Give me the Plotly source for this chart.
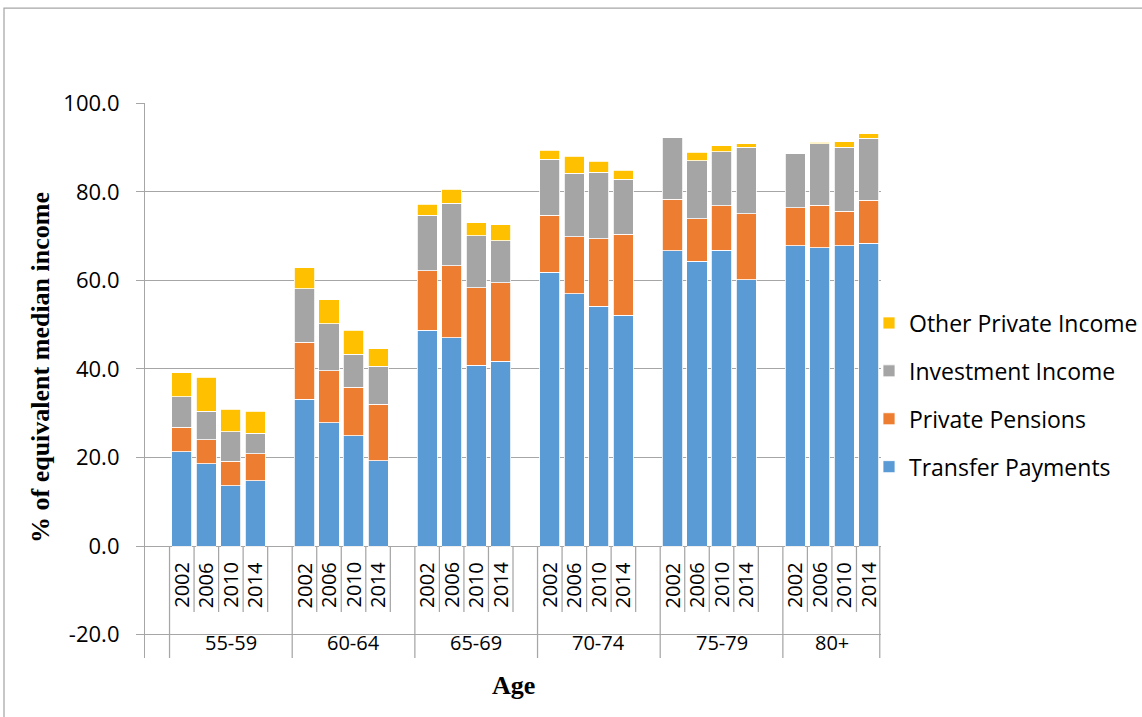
import plotly.graph_objects as go

# Age bands and survey years
age_groups = ["55-59", "60-64", "65-69", "70-74", "75-79", "80+"]
years = ["2002", "2006", "2010", "2014"]

# Income components, % of equivalent median income (age band x year, row by row)
transfer_payments = [
    21.3, 18.6, 13.6, 14.7,
    33.2, 27.8, 24.9, 19.3,
    48.7, 47.1, 40.8, 41.8,
    61.9, 57.0, 54.2, 52.2,
    66.7, 64.4, 66.8, 60.2,
    67.8, 67.4, 67.8, 68.4,
]
private_pensions = [
    5.5, 5.4, 5.6, 6.1,
    12.8, 11.8, 11.0, 12.7,
    13.5, 16.2, 17.6, 17.7,
    12.8, 12.9, 15.2, 18.3,
    11.7, 9.6, 10.1, 14.9,
    8.6, 9.6, 7.8, 9.7,
]
investment_income = [
    6.9, 6.5, 6.6, 4.7,
    12.1, 10.6, 7.4, 8.6,
    12.5, 14.2, 11.7, 9.5,
    12.7, 14.3, 15.0, 12.4,
    13.9, 13.1, 12.2, 15.0,
    12.4, 13.9, 14.5, 14.0,
]
other_private_income = [
    5.5, 7.6, 5.1, 4.9,
    4.8, 5.5, 5.5, 4.0,
    2.5, 3.1, 3.0, 3.6,
    2.0, 3.9, 2.5, 2.0,
    0.0, 1.9, 1.3, 0.8,
    0.0, 0.3, 1.2, 1.0,
]

# Value axis ticks
y_tick_values = [-20, 0, 20, 40, 60, 80, 100]
y_tick_labels = ["-20.0", "0.0", "20.0", "40.0", "60.0", "80.0", "100.0"]

# (name, values, colour, legend rank) in stacking order, bottom to top
series = [
    ("Transfer Payments", transfer_payments, "#5B9BD5", 4),
    ("Private Pensions", private_pensions, "#ED7D31", 3),
    ("Investment Income", investment_income, "#A5A5A5", 2),
    ("Other Private Income", other_private_income, "#FFC000", 1),
]

# Category slots: one empty slot at the start, then each age band takes
# four year slots followed by an empty spacer (none after the last band).
SLOTS_PER_GROUP = 5
n_years = len(years)
n_groups = len(age_groups)
n_slots = 1 + SLOTS_PER_GROUP * (n_groups - 1) + n_years

x_pos = [1 + SLOTS_PER_GROUP * g + k for g in range(n_groups) for k in range(n_years)]

GRID = "#A6A6A6"
SANS = "Open Sans"
SERIF = "Liberation Serif"
Y_MIN, Y_MAX = -25.3, 100.1
YEAR_LABEL_Y = -8.8
GROUP_LABEL_Y = -21.9
SHORT_SEP_Y = -14.9

fig = go.Figure()
for name, vals, color, rank in series:
    fig.add_trace(go.Bar(
        x=x_pos, y=vals, name=name, legendgroup=name, legendrank=rank,
        marker=dict(color=color, line=dict(color="white", width=0.8)),
        hoverinfo="y+name",
    ))

annotations = []
shapes = []

# Year labels (rotated) and age-band labels below the zero line
for g, grp in enumerate(age_groups):
    for k, yr in enumerate(years):
        annotations.append(dict(
            x=1 + SLOTS_PER_GROUP * g + k, y=YEAR_LABEL_Y, xref="x", yref="y",
            xanchor="center", yanchor="middle",
            text=yr, textangle=-90, showarrow=False,
            font=dict(family=SANS, size=20, color="#000000"),
        ))
    left = 0.5 + SLOTS_PER_GROUP * g
    right = min(left + SLOTS_PER_GROUP, n_slots - 0.5)
    annotations.append(dict(
        x=(left + right) / 2, y=GROUP_LABEL_Y, xref="x", yref="y",
        xanchor="center", yanchor="middle",
        text=grp, showarrow=False,
        font=dict(family=SANS, size=20, color="#000000"),
    ))

# Category table dividers: long ones between age bands, short ones between years
long_div = [0.5 + SLOTS_PER_GROUP * g for g in range(n_groups)] + [n_slots - 0.5 - 0.05]
short_div = []
for g in range(n_groups):
    for k in range(n_years):
        b = 1.5 + SLOTS_PER_GROUP * g + k
        if b < n_slots - 0.5 - 1e-9:
            short_div.append(b)

for b in long_div:
    shapes.append(dict(type="line", xref="x", yref="y", x0=b, x1=b, y0=0, y1=Y_MIN,
                       line=dict(color=GRID, width=1.25), layer="above"))
for b in short_div:
    shapes.append(dict(type="line", xref="x", yref="y", x0=b, x1=b, y0=0, y1=SHORT_SEP_Y,
                       line=dict(color=GRID, width=1.25), layer="above"))

# Plot-area geometry in pixels
L, T, PW, PH = 145, 103, 736, 555
def px_x(p):
    return (p - L) / PW
def px_y(p):
    return (T + PH - p) / PH

# Outer chart frame
shapes.append(dict(type="rect", xref="paper", yref="paper",
                   x0=px_x(4), x1=px_x(1150), y0=px_y(8), y1=px_y(730),
                   line=dict(color="#A6A6A6", width=1.25), fillcolor="rgba(0,0,0,0)",
                   layer="below"))

# Axis titles
annotations.append(dict(
    x=px_x(40), y=px_y(368), xref="paper", yref="paper",
    xanchor="center", yanchor="middle",
    text="<b>% of equivalent median income</b>", textangle=-90, showarrow=False,
    font=dict(family=SERIF, size=26, color="#000000"),
))
annotations.append(dict(
    x=px_x(513), y=px_y(685), xref="paper", yref="paper",
    xanchor="center", yanchor="middle",
    text="<b>Age</b>", showarrow=False,
    font=dict(family=SERIF, size=26, color="#000000"),
))

fig.update_layout(
    width=1142, height=717,
    margin=dict(l=L, r=1142 - L - PW, t=T, b=717 - T - PH, autoexpand=False),
    paper_bgcolor="white", plot_bgcolor="white",
    barmode="stack", bargap=0.18,
    showlegend=True,
    legend=dict(
        x=px_x(869), xanchor="left", y=px_y(395), yanchor="middle",
        traceorder="grouped", tracegroupgap=15,
        font=dict(family=SANS, size=23, color="#000000"),
        bgcolor="rgba(0,0,0,0)",
    ),
    xaxis=dict(
        range=[-0.5, n_slots - 0.5], showgrid=False, zeroline=False,
        showticklabels=False, ticks="", showline=False, fixedrange=True,
    ),
    yaxis=dict(
        range=[Y_MIN, Y_MAX], tickvals=y_tick_values, ticktext=y_tick_labels,
        showgrid=True, gridcolor=GRID, gridwidth=1.25,
        zeroline=True, zerolinecolor=GRID, zerolinewidth=1.25,
        showline=True, linecolor=GRID, linewidth=1.25,
        ticks="outside", ticklen=8, tickwidth=1.25, tickcolor=GRID,
        ticklabelstandoff=12,
        tickfont=dict(family=SANS, size=22, color="#000000"),
    ),
    annotations=annotations,
    shapes=shapes,
)

fig.write_html("out.html")
